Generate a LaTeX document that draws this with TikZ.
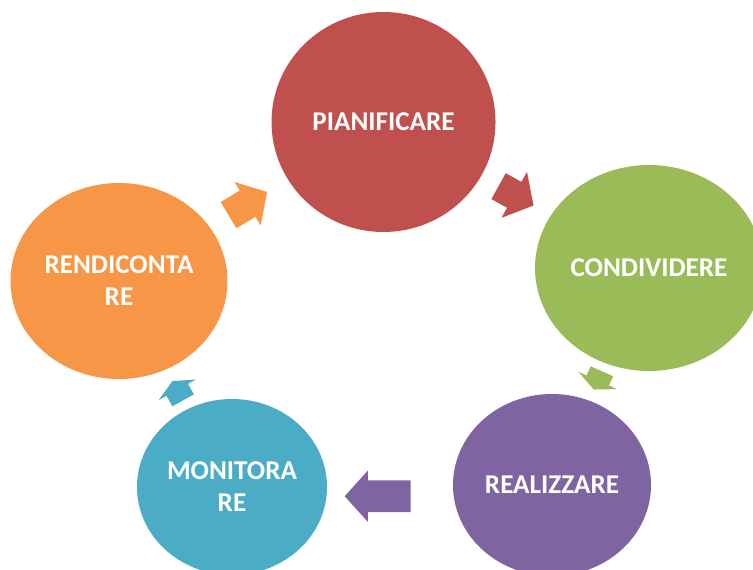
\documentclass[tikz,border=0pt]{standalone}
\usepackage{fontspec}
\setmainfont{Carlito}
\usepackage{tikz}
\usetikzlibrary{shapes.geometric,shapes.arrows}
\usepackage{xcolor}
\definecolor{planred}{HTML}{C0504D}
\definecolor{sharegreen}{HTML}{9BBB59}
\definecolor{doviolet}{HTML}{8064A2}
\definecolor{checkteal}{HTML}{4BACC6}
\definecolor{reportorange}{HTML}{F79646}

\begin{document}
\begin{tikzpicture}[font=\fontsize{19.3}{22.8}\selectfont\bfseries,
  phase/.style={ellipse,inner sep=0pt,text=white,align=center},
  blockarrow/.style={single arrow,anchor=tail,inner xsep=0pt,single arrow head indent=0pt}]
\useasboundingbox (0,0) rectangle (18.825,14.225);
\begin{scope}
\clip (0,0) rectangle (18.825,14.225);
\node[phase,fill=planred,minimum width=5.6cm,minimum height=5.5cm] (pianificare) at (9.588,11.175) {PIANIFICARE};
\node[phase,fill=sharegreen,minimum width=5.7cm,minimum height=5.15cm] (condividere) at (16.225,7.525) {CONDIVIDERE};
\node[phase,fill=doviolet,minimum width=4.95cm,minimum height=4.55cm] (realizzare) at (13.8,2.1) {REALIZZARE};
\node[phase,fill=checkteal,minimum width=4.75cm,minimum height=4.4cm] (monitorare) at (5.8,2.05) {MONITORA\\RE};
\node[phase,fill=reportorange,minimum width=5.425cm,minimum height=4.9cm] (rendicontare) at (2.975,7.2) {RENDICONTA\\RE};
\node[blockarrow,fill=planred,rotate=-29,minimum height=1cm,inner ysep=0.363cm,single arrow head extend=0.288cm,single arrow tip angle=100] (pianTOcond) at (12.458,9.575) {};
\node[blockarrow,fill=sharegreen,rotate=-114,minimum height=0.5cm,inner ysep=0.3cm,single arrow head extend=0.225cm,single arrow tip angle=130] (condTOreal) at (15.05,4.95) {};
\node[blockarrow,fill=doviolet,rotate=180,minimum height=1.65cm,inner ysep=0.388cm,single arrow head extend=0.25cm,single arrow tip angle=96] (realTOmoni) at (10.275,1.82) {};
\node[blockarrow,fill=checkteal,rotate=119,minimum height=0.55cm,inner ysep=0.3cm,single arrow head extend=0.225cm,single arrow tip angle=130] (moniTOrend) at (4.582,4.21) {};
\node[blockarrow,fill=reportorange,rotate=31,minimum height=1.125cm,inner ysep=0.375cm,single arrow head extend=0.25cm,single arrow tip angle=96] (rendTOpian) at (5.708,8.843) {};
\end{scope}
\end{tikzpicture}
\end{document}
